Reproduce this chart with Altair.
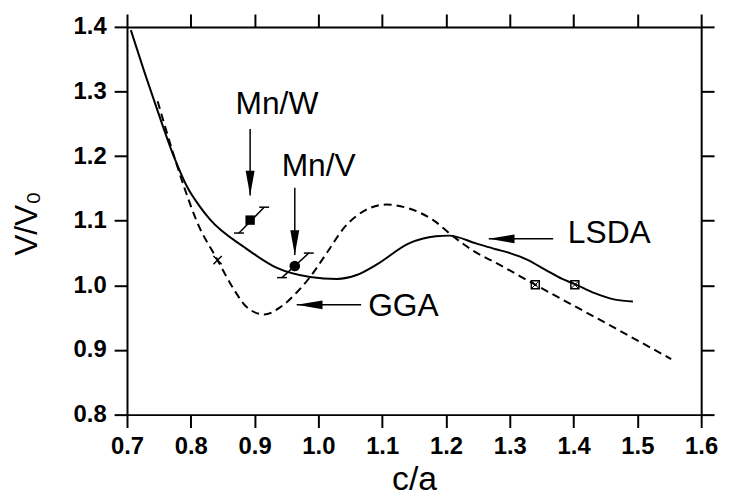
import altair as alt
import pandas as pd

# ---- curves ----
lsda_x = [0.706, 0.728, 0.748, 0.774, 0.795, 0.812, 0.830, 0.884, 0.935, 0.987,
          1.029, 1.060, 1.091, 1.142, 1.184, 1.205, 1.247, 1.278, 1.300, 1.327,
          1.356, 1.382, 1.402, 1.433, 1.465, 1.493]
lsda_y = [1.395, 1.328, 1.270, 1.198, 1.151, 1.125, 1.102, 1.059, 1.027, 1.013,
          1.010, 1.016, 1.032, 1.065, 1.076, 1.077, 1.065, 1.056, 1.050, 1.040,
          1.024, 1.010, 1.002, 0.988, 0.978, 0.975]

gga_x = [0.748, 0.776, 0.791, 0.809, 0.842, 0.868, 0.888, 0.915, 0.940, 0.966,
         0.987, 1.013, 1.041, 1.073, 1.106, 1.142, 1.180, 1.211, 1.247, 1.278,
         1.340, 1.450, 1.553]
gga_y = [1.285, 1.193, 1.148, 1.100, 1.039, 0.993, 0.966, 0.955, 0.966, 0.989,
         1.013, 1.050, 1.090, 1.116, 1.125, 1.119, 1.101, 1.076, 1.051, 1.035,
         1.001, 0.942, 0.886]

# computed points
cross_x = [0.842]
cross_y = [1.039]
box_x = [1.340, 1.402]
box_y = [1.001, 1.001]

# experiments with error bars
expw_x, expw_y = [0.893], [1.101]
expv_x, expv_y = [0.963], [1.030]
err_x_lo = [0.8755, 0.943]
err_y_lo = [1.081, 1.012]
err_x_hi = [0.915, 0.985]
err_y_hi = [1.121, 1.050]

# annotation labels
labc_text = ["Mn/W", "Mn/V"]
labc_x = [0.935, 1.0005]
labc_y = [1.265, 1.170]
labl_text = ["GGA", "LSDA"]
labl_x = [1.078, 1.391]
labl_y = [0.953, 1.065]

# arrows
varr_x = [0.893, 0.963]
varr_tail = [1.242, 1.151]
varr_tip = [1.139, 1.047]
harr_y = [0.970, 1.072]
harr_tail = [1.067, 1.368]
harr_tip = [0.966, 1.267]

x_ticks = [0.7, 0.8, 0.9, 1.0, 1.1, 1.2, 1.3, 1.4, 1.5, 1.6]
y_ticks = [0.8, 0.9, 1.0, 1.1, 1.2, 1.3, 1.4]

FONT = "Liberation Sans"
xs = alt.Scale(domain=[0.7, 1.6], nice=False, zero=False)
ys = alt.Scale(domain=[0.8, 1.4], nice=False, zero=False)

common_axis = dict(tickSize=13, tickWidth=2, tickColor="black", domainWidth=2,
                   domainColor="black", grid=False)

ax_bottom = alt.Axis(orient="bottom", values=x_ticks, format=".1f", labelFont=FONT,
                     labelFontSize=24, labelFontWeight="bold", labelColor="black",
                     labelPadding=7, labelFlush=False, labelOverlap=False,
                     title="c/a", titleFont=FONT, titleFontSize=34,
                     titleFontWeight="normal", titleColor="black", titleY=75,
                     titleBaseline="alphabetic", **common_axis)
ax_left = alt.Axis(orient="left", values=y_ticks, format=".1f", labelFont=FONT,
                   labelFontSize=24, labelFontWeight="bold", labelColor="black",
                   labelPadding=8, labelFlush=False, labelOverlap=False,
                   title="V/V₀", titleFont=FONT, titleFontSize=32,
                   titleFontWeight="normal", titleColor="black", titleAngle=270,
                   titleX=-91, titleY=198, titleAlign="center",
                   titleBaseline="alphabetic", **common_axis)
ax_top = alt.Axis(orient="top", values=x_ticks, labels=False, title=None, **common_axis)
ax_right = alt.Axis(orient="right", values=y_ticks, labels=False, title=None, **common_axis)


def X(f, axis=None):
    return alt.X(f, type="quantitative", scale=xs, axis=axis)


def Y(f, axis=None):
    return alt.Y(f, type="quantitative", scale=ys, axis=axis)


lsda_df = pd.DataFrame({"x": lsda_x, "y": lsda_y})
gga_df = pd.DataFrame({"x": gga_x, "y": gga_y})

lsda = alt.Chart(lsda_df).mark_line(interpolate="monotone", color="black",
                                    strokeWidth=2).encode(
    x=X("x", ax_bottom), y=Y("y", ax_left))
gga = alt.Chart(gga_df).mark_line(interpolate="monotone", color="black",
                                  strokeWidth=2, strokeDash=[8, 5]).encode(
    x=X("x", ax_top), y=Y("y", ax_right))

XSHAPE = "M-1,-1L1,1M1,-1L-1,1"
cross = alt.Chart(pd.DataFrame({"x": cross_x, "y": cross_y})).mark_point(
    shape=XSHAPE, size=70, filled=False, color="black", strokeWidth=1.5, opacity=1
).encode(x=X("x"), y=Y("y"))

box_df = pd.DataFrame({"x": box_x, "y": box_y})
boxes = alt.Chart(box_df).mark_point(
    shape="square", size=64, filled=False, color="black", strokeWidth=1.5, opacity=1
).encode(x=X("x"), y=Y("y"))
boxes_x = alt.Chart(box_df).mark_point(
    shape=XSHAPE, size=49, filled=False, color="black", strokeWidth=1, opacity=1
).encode(x=X("x"), y=Y("y"))

err_df = pd.DataFrame({"x": err_x_lo, "y": err_y_lo, "x2": err_x_hi, "y2": err_y_hi})
err = alt.Chart(err_df).mark_rule(color="black", strokeWidth=1.5).encode(
    x=X("x"), y=Y("y"), x2="x2", y2="y2")
cap_lo = alt.Chart(err_df).mark_tick(orient="horizontal", size=10, thickness=1.5,
                                     color="black", opacity=1).encode(x=X("x"), y=Y("y"))
cap_hi = alt.Chart(err_df).mark_tick(orient="horizontal", size=10, thickness=1.5,
                                     color="black", opacity=1).encode(x=X("x2"), y=Y("y2"))

mnw = alt.Chart(pd.DataFrame({"x": expw_x, "y": expw_y})).mark_point(
    shape="square", size=90, filled=True, color="black", opacity=1
).encode(x=X("x"), y=Y("y"))
mnv = alt.Chart(pd.DataFrame({"x": expv_x, "y": expv_y})).mark_point(
    shape="circle", size=115, filled=True, color="black", opacity=1
).encode(x=X("x"), y=Y("y"))

varr_df = pd.DataFrame({"x": varr_x, "y": varr_tail, "y2": varr_tip})
varr = alt.Chart(varr_df).mark_rule(color="black", strokeWidth=1.5).encode(
    x=X("x"), y=Y("y"), y2="y2")
varr_head = alt.Chart(varr_df).mark_point(
    shape="M-0.36,-2L0.36,-2L0,0Z", size=625, filled=True, color="black", opacity=1
).encode(x=X("x"), y=Y("y2"))

harr_df = pd.DataFrame({"y": harr_y, "x": harr_tail, "x2": harr_tip})
harr = alt.Chart(harr_df).mark_rule(color="black", strokeWidth=1.5).encode(
    x=X("x"), x2="x2", y=Y("y"))
harr_head = alt.Chart(harr_df).mark_point(
    shape="M0,0L2,-0.34L2,0.34Z", size=676, filled=True, color="black", opacity=1
).encode(x=X("x2"), y=Y("y"))

labc = alt.Chart(pd.DataFrame({"x": labc_x, "y": labc_y, "t": labc_text})).mark_text(
    font=FONT, fontSize=32, align="center", baseline="alphabetic", color="black"
).encode(x=X("x"), y=Y("y"), text="t:N")
labl = alt.Chart(pd.DataFrame({"x": labl_x, "y": labl_y, "t": labl_text})).mark_text(
    font=FONT, fontSize=32, align="left", baseline="alphabetic", color="black"
).encode(x=X("x"), y=Y("y"), text="t:N")

chart = alt.layer(
    lsda, gga, cross, boxes, boxes_x, err, cap_lo, cap_hi, mnw, mnv,
    varr, varr_head, harr, harr_head, labc, labl
).resolve_axis(x="independent", y="independent").properties(
    width=579, height=391,
    autosize=alt.AutoSizeParams(type="none"),
    padding={"left": 120, "top": 17, "right": 21, "bottom": 79},
    background="white",
).configure_view(stroke=None)

chart.save("out.html", embed_options={"renderer": "svg", "actions": False})
